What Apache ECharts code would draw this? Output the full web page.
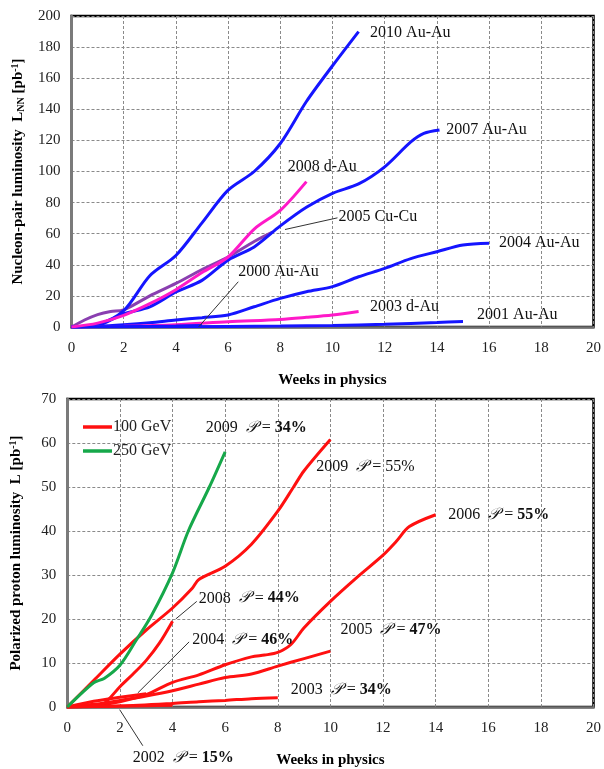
<!DOCTYPE html>
<html><head><meta charset="utf-8">
<script src="https://cdn.jsdelivr.net/npm/echarts@6/dist/echarts.min.js"></script>
<style>html,body{margin:0;padding:0;background:#fff}#c{width:604px;height:769px}</style>
</head><body><div id="c"></div>
<script>
// ---------- Top chart data (weeks, luminosity pb^-1) ----------
const xTicks = [0,2,4,6,8,10,12,14,16,18,20];
const topYTicks = [0,20,40,60,80,100,120,140,160,180,200];
const botYTicks = [0,10,20,30,40,50,60,70];

const w2010 = [0,1,2,3,4,5,6,7,8,9,10,11];
const v2010 = [0,1.5,10.5,33,46,67,88,100,118,145,168,190];
const w2007 = [0,1,2,3,4,5,6,7,8,9,10,11,12,13,13.5,14.1];
const v2007 = [0,1,8.5,13,22.5,30,43,51.5,65,77,86,92,103,119,124.5,126.7];
const w2008dAu = [0,1,2,3,4,5,6,7,8,9];
const v2008dAu = [0,2.5,7.5,15,24,35,45,63,75,93.5];
const w2005 = [0,0.5,1,1.5,2,3,4,5,6,7,7.7];
const v2005 = [0,4.5,8,10,11,20,28,37,45,55,61];
const w2004 = [0,1,2,3,4,5,6,7,8,9,10,11,12,13,14,15,16];
const v2004 = [0,0.5,1.5,2.8,4.5,6,7.7,13,18.4,22.7,26,32.3,37.7,44,48.4,52.7,53.8];
const w2003 = [0,2,4,6,8,9,10,11];
const v2003 = [0,0.5,1.5,3.4,4.9,6.2,7.7,9.9];
const w2001 = [0,4,8,10,12,14,15];
const v2001 = [0,0.2,0.6,1,1.8,2.9,3.5];
const w2000 = [0,2,4,5];
const v2000 = [0,0.2,0.6,1];

// ---------- Bottom chart data ----------
const w2009g = [0,1,1.4,2,2.6,3.2,4,4.6,5.4,6];
const v2009g = [0,5.5,6.5,9.5,15,20.8,30.5,40,50,58];
const w2009r = [0,1,2,3,4,4.75,5,6,7,8,8.6,9,10];
const v2009r = [0,6,12,17.5,22.5,27,29,32,37,44.5,50,53.7,60.8];
const w2006 = [0,1,2,3,4,5,6,7,7.5,8,8.5,9,10,11,12,12.5,13,14];
const v2006 = [0,0.3,1.2,2.8,5.6,7.3,9.6,11.4,11.8,12.4,14.2,18,24,29.4,34.5,37.6,41,43.7];
const w2005p = [0,1,2,3,4,5,6,7,8,9,10];
const v2005p = [0,0.6,1.5,2.5,3.7,5.2,6.7,7.5,9.3,11,12.7];
const w2008p = [0,1,1.4,2,2.5,3,3.5,4];
const v2008p = [0,0.2,0.8,4.6,7.5,10.6,14.5,19.5];
const w2004p = [0,1,2,3];
const v2004p = [0,1.3,2.2,3.0];
const w2003p = [0,2,4,5,6,7,8];
const v2003p = [0,0.2,0.8,1.2,1.5,1.9,2.1];
const w2002p = [0,1,2,3,4];
const v2002p = [0,0.1,0.2,0.3,0.4];

const legendNames = ['100 GeV','250 GeV'];

// annotations: [week, value, text]
const topLabels = [
  [11.44,189,'2010 Au-Au'],[14.36,126.7,'2007 Au-Au'],[8.29,103,'2008 d-Au'],
  [10.23,70.7,'2005 Cu-Cu'],[16.38,54,'2004 Au-Au'],[6.39,35.4,'2000 Au-Au'],
  [11.44,12.9,'2003 d-Au'],[15.54,7.7,'2001 Au-Au']
];
const topLeaders = [[8.18,62.7,10.19,70.2],[4.88,0.2,6.39,29.1]];
const botLabels = [
  [5.26,63.5,'2009','34%',true],[9.46,54.5,'2009','55%',false],[14.48,43.75,'2006','55%',true],
  [5.0,24.7,'2008','44%',true],[4.75,15.3,'2004','46%',true],[10.38,17.5,'2005','47%',true],
  [8.49,4.0,'2003','34%',true],[2.49,-11.5,'2002','15%',true]
];
const botLeaders = [[4.12,20.0,4.92,24.0],[2.68,3.2,4.63,14.8],[1.99,-0.6,2.87,-8.8]];

const BLUE='#1515ff', MAG='#ff19c8', PUR='#8a3fb0', RED='#ff1010', GRN='#16a84a';
const SERIF='"Liberation Serif","DejaVu Serif",serif';

function zip(a,b){return a.map((x,i)=>[x,b[i]]);}
function ln(name,x,y,color,gi,z){
  return {name:name,type:'line',xAxisIndex:gi,yAxisIndex:gi,data:zip(x,y),smooth:0.3,
    symbol:'none',lineStyle:{color:color,width:3},itemStyle:{color:color},z:z||2,silent:true};
}

const chart = echarts.init(document.getElementById('c'),null,{renderer:'canvas'});
function xAxis(gi){
  return {type:'value',gridIndex:gi,min:0,max:20,interval:2,
    name:'Weeks in physics',nameLocation:'middle',nameGap:46,
    nameTextStyle:{fontFamily:SERIF,fontWeight:'bold',fontSize:15,color:'#000'},
    axisLine:{lineStyle:{color:'#707070',width:2.5}},axisTick:{show:false},
    axisLabel:{fontFamily:SERIF,fontSize:15,color:'#222',margin:14},
    splitLine:{lineStyle:{color:'#8a8a8a',type:[3,2],width:1}}};
}
function yAxis(gi,max,iv,rich,nameText,gap){
  return {type:'value',gridIndex:gi,min:0,max:max,interval:iv,
    name:nameText,nameLocation:'middle',nameGap:gap,nameRotate:90,
    nameTextStyle:{fontFamily:SERIF,fontWeight:'bold',fontSize:15,color:'#000',rich:rich},
    axisLine:{show:true,lineStyle:{color:'#7a7a7a',width:3}},axisTick:{show:false},
    axisLabel:{fontFamily:SERIF,fontSize:15,color:'#222',margin:11},
    splitLine:{lineStyle:{color:'#8a8a8a',type:[3,2],width:1}}};
}
const richT = {
  t:{fontFamily:SERIF,fontWeight:'bold',fontSize:15,color:'#000'},
  sub:{fontFamily:SERIF,fontWeight:'bold',fontSize:10,color:'#000',padding:[6,0,0,0]},
  sup:{fontFamily:SERIF,fontWeight:'bold',fontSize:10,color:'#000',padding:[0,0,6,0]}
};

const option = {
  animation:false,
  backgroundColor:'#fff',
  grid:[
    {left:71.5,right:4.5,top:16,height:311,show:true,borderColor:'#000',borderWidth:2.5,backgroundColor:'transparent'},
    {left:67.3,right:7,top:399,height:311.7,show:true,borderColor:'#000',borderWidth:2.5,backgroundColor:'transparent'}
  ],
  xAxis:[xAxis(0),xAxis(1)],
  yAxis:[
    yAxis(0,200,20,richT,'{t|Nucleon-pair luminosity  L}{sub|NN}{t| [pb}{sup|-1}{t|]}',45),
    yAxis(1,70,10,richT,'{t|Polarized proton luminosity  L [pb}{sup|-1}{t|]}',43)
  ],
  legend:{data:legendNames,left:83,top:419,orient:'vertical',itemGap:8,padding:0,
    icon:'rect',itemWidth:29,itemHeight:3.5,
    textStyle:{fontFamily:SERIF,fontSize:16,color:'#222',padding:[0,0,0,-4]}},
  series:[
    ln('2005 Cu-Cu',w2005,v2005,PUR,0,2),
    ln('2010 Au-Au',w2010,v2010,BLUE,0,3),
    ln('2007 Au-Au',w2007,v2007,BLUE,0,3),
    ln('2008 d-Au',w2008dAu,v2008dAu,MAG,0,4),
    ln('2004 Au-Au',w2004,v2004,BLUE,0,3),
    ln('2003 d-Au',w2003,v2003,MAG,0,3),
    ln('2000 Au-Au',w2000,v2000,BLUE,0,3),
    ln('2001 Au-Au',w2001,v2001,BLUE,0,3),
    ln('250 GeV',w2009g,v2009g,GRN,1,3),
    ln('100 GeV',w2009r,v2009r,RED,1,2),
    ln('100 GeV',w2006,v2006,RED,1,2),
    ln('100 GeV',w2005p,v2005p,RED,1,2),
    ln('100 GeV',w2008p,v2008p,RED,1,2),
    ln('100 GeV',w2004p,v2004p,RED,1,2),
    ln('100 GeV',w2003p,v2003p,RED,1,2),
    ln('100 GeV',w2002p,v2002p,RED,1,2)
  ]
};
chart.setOption(option);

// annotations placed through the axes' own scales
const g = [];
topLabels.forEach(a=>{
  const p = chart.convertToPixel({gridIndex:0},[a[0],a[1]]);
  g.push({type:'text',x:p[0],y:p[1],z:10,style:{text:a[2],font:'16px '+SERIF,fill:'#111',verticalAlign:'middle'}});
});
topLeaders.forEach(a=>{
  const p1 = chart.convertToPixel({gridIndex:0},[a[0],a[1]]);
  const p2 = chart.convertToPixel({gridIndex:0},[a[2],a[3]]);
  g.push({type:'line',z:9,shape:{x1:p1[0],y1:p1[1],x2:p2[0],y2:p2[1]},style:{stroke:'#333',lineWidth:1}});
});
botLabels.forEach(a=>{
  const p = chart.convertToPixel({gridIndex:1},[a[0],a[1]]);
  g.push({type:'text',x:p[0],y:p[1],z:10,style:{
    text:'{n|'+a[2]+'  }{p|𝒫}{n| = }{'+(a[4]?'b':'n')+'|'+a[3]+'}',
    verticalAlign:'middle',
    rich:{
      n:{font:'16px '+SERIF,fill:'#111'},
      b:{font:'bold 16px '+SERIF,fill:'#111'},
      p:{font:'italic 16px "DejaVu Serif",serif',fill:'#111'}
    }}});
});
botLeaders.forEach(a=>{
  const p1 = chart.convertToPixel({gridIndex:1},[a[0],a[1]]);
  const p2 = chart.convertToPixel({gridIndex:1},[a[2],a[3]]);
  g.push({type:'line',z:9,shape:{x1:p1[0],y1:p1[1],x2:p2[0],y2:p2[1]},style:{stroke:'#333',lineWidth:1}});
});
chart.setOption({graphic:g});
</script></body></html>
